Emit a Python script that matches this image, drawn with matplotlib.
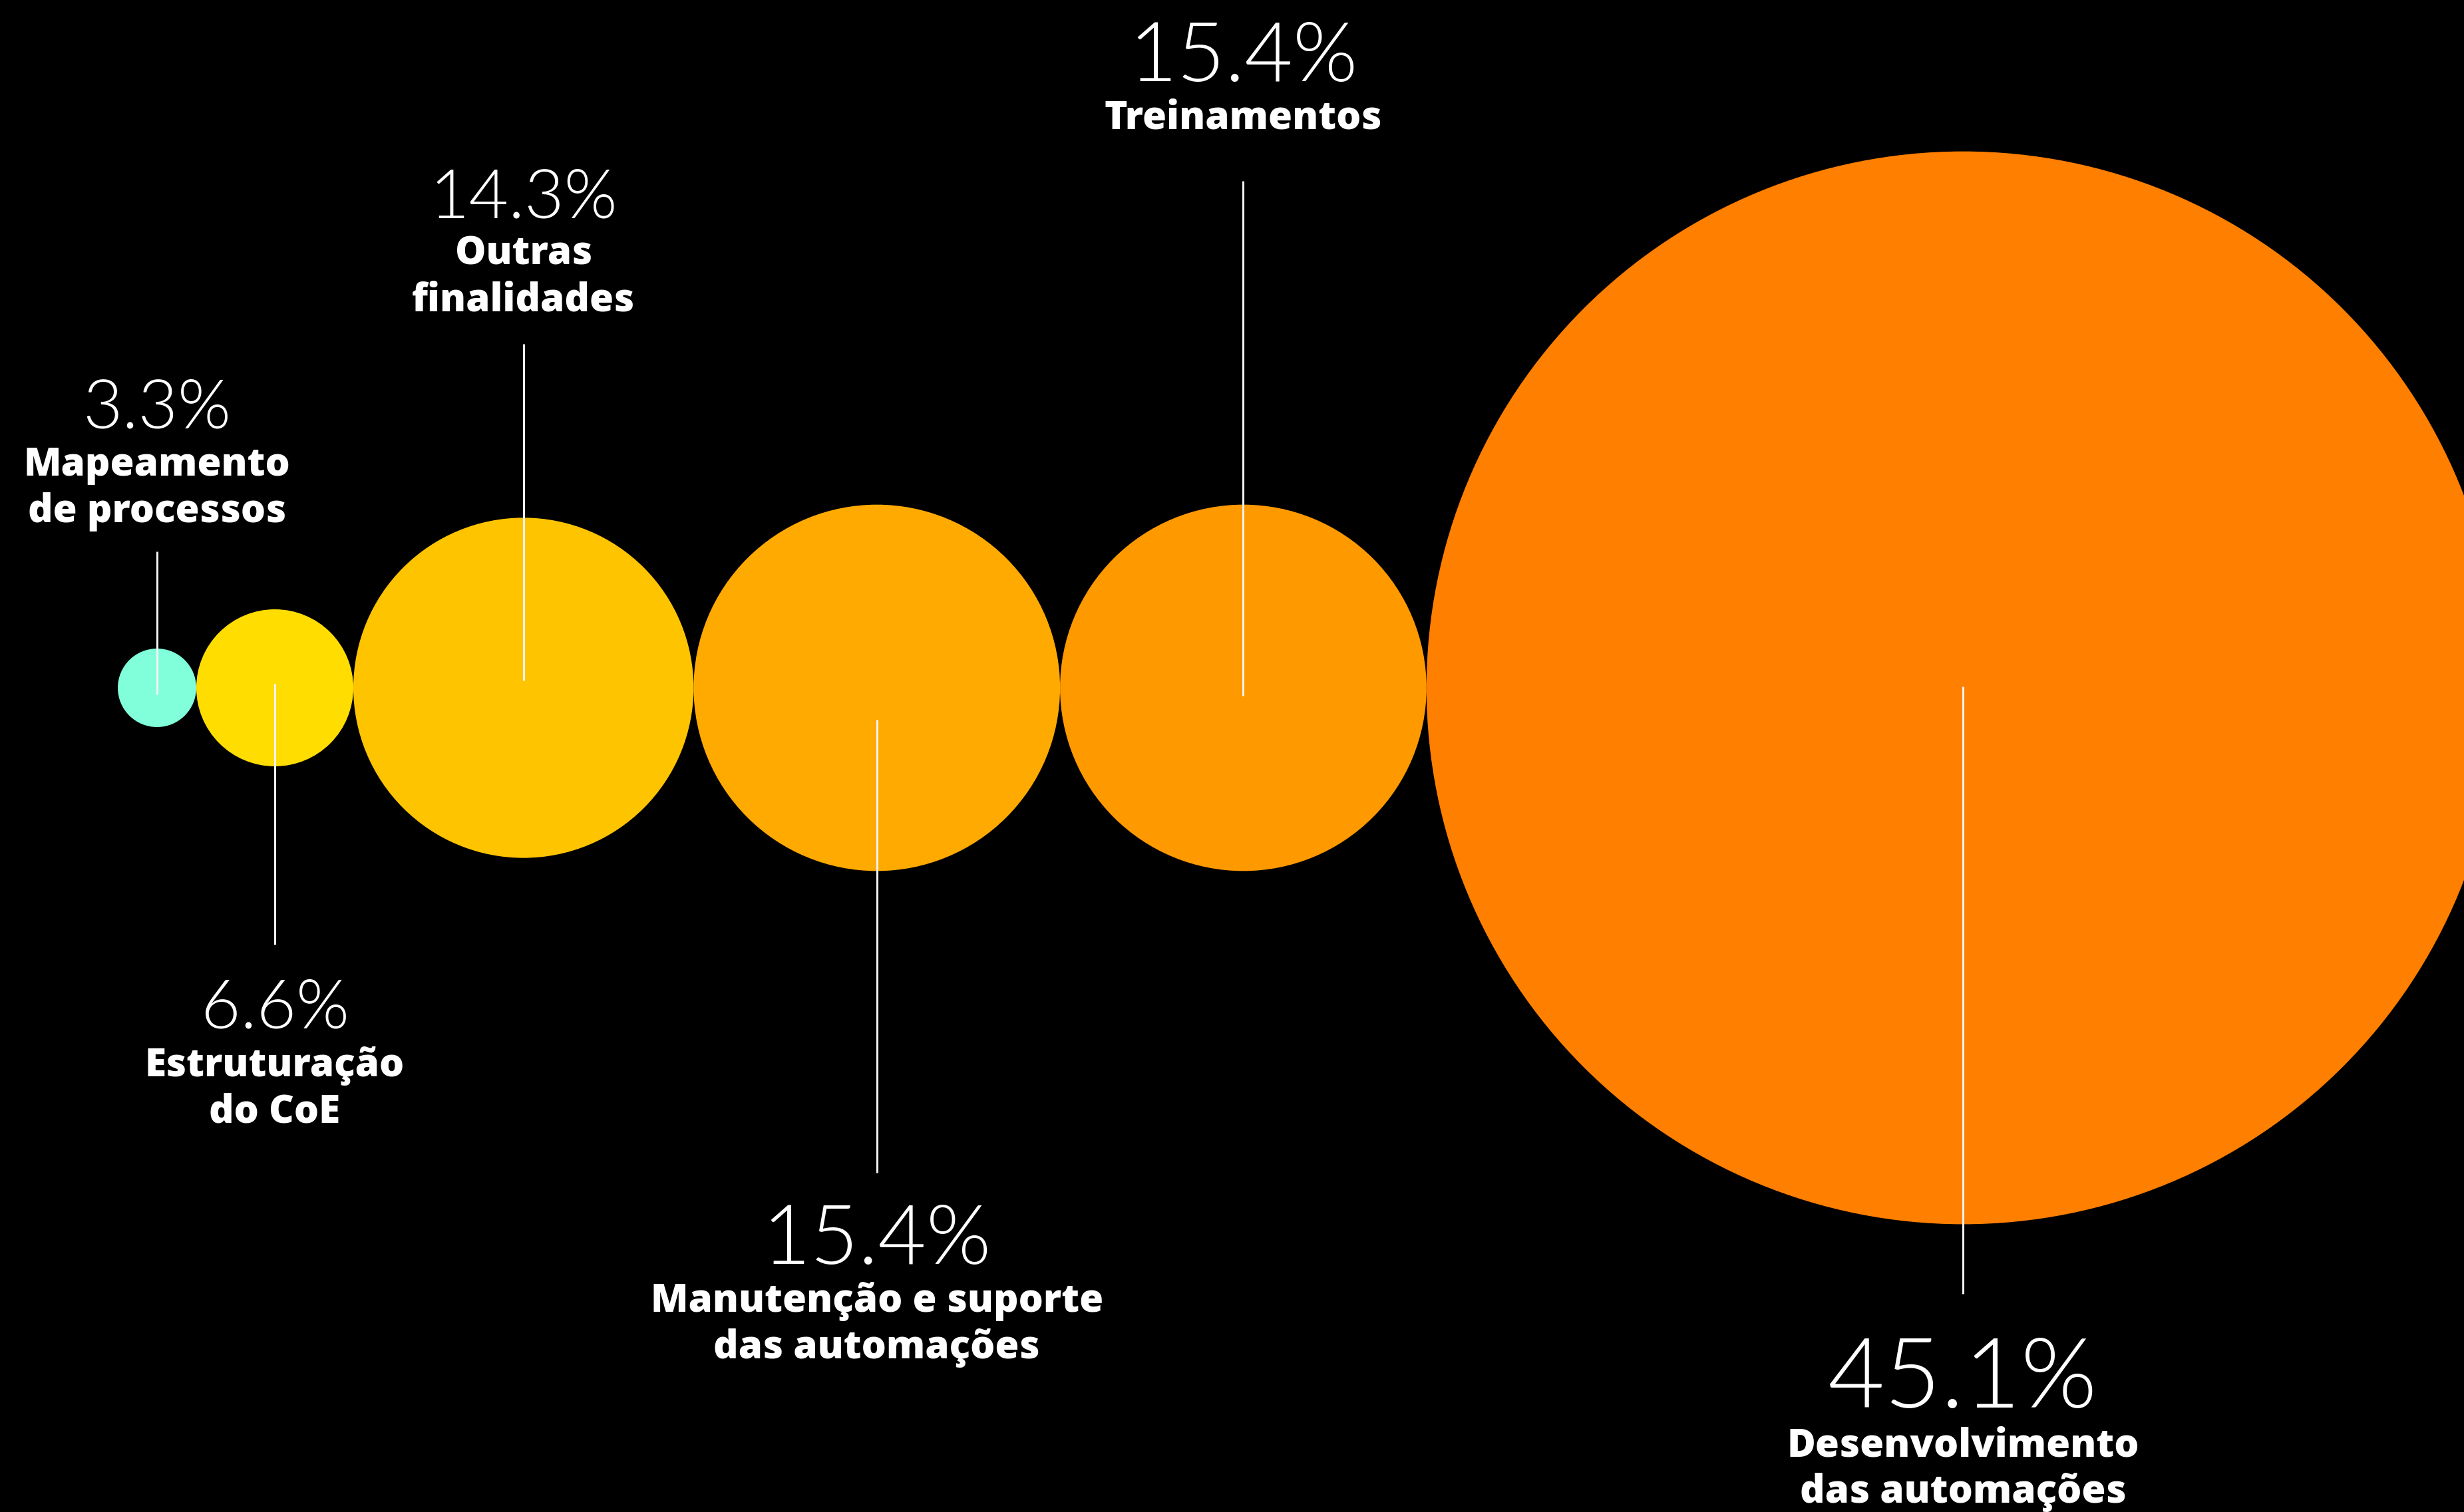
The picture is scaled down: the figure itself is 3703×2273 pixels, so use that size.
import matplotlib
matplotlib.use("Agg")
import matplotlib.pyplot as plt
from matplotlib.patches import Circle
from matplotlib import font_manager as fm

# ---------------- data ----------------
categories = [
    "Mapeamento\nde processos",
    "Estruturação\ndo CoE",
    "Outras\nfinalidades",
    "Manutenção e suporte\ndas automações",
    "Treinamentos",
    "Desenvolvimento\ndas automações",
]
values = [3.3, 6.6, 14.3, 15.4, 15.4, 45.1]
value_labels = ["3.3%", "6.6%", "14.3%", "15.4%", "15.4%", "45.1%"]

# ---------------- style / layout ----------------
colors = ["#80FFDA", "#FFDD00", "#FFC400", "#FFAA00", "#FF9900", "#FF7F00"]
W, H = 3703, 2273
K = 17.88            # pixels of radius per percentage point
LEFT = 177           # left edge of first bubble
CY = 1034            # vertical centre of the bubble row
line_top = [829, 1028, 517, 1082, 272, 1032]
line_bot = [1044, 1420, 1023, 1763, 1046, 1945]
pct_base = [644, 1545, 328, 1900, 122, 2116]
lab_base = [715, 1618, 397, 1972, 193, 2189]
pct_size = [74, 74, 74, 90, 90, 106]
LINE_GAP = 70
LAB_SIZE = 42


def pick(prefs):
    for name, weights in prefs:
        for w in weights:
            for f in fm.fontManager.ttflist:
                fw = f.weight
                if isinstance(fw, str):
                    fw = fm.weight_dict.get(fw, 400)
                if f.name == name and fw == w and f.style == "normal":
                    return f.fname
    return None


light_file = pick([("Lato", [300, 200]), ("Roboto", [300]), ("Open Sans", [300]),
                   ("Inter", [300]), ("Lato", [400])])
bold_file = pick([("Open Sans", [800, 700]), ("Lato", [700]), ("Roboto", [700]),
                  ("Inter", [700])])


def fprops(fname, size, fallback_weight):
    if fname:
        fp = fm.FontProperties(fname=fname)
    else:
        fp = fm.FontProperties(family="DejaVu Sans", weight=fallback_weight)
    fp.set_size(size)
    return fp


fig = plt.figure(figsize=(W / 100, H / 100), dpi=100, facecolor="black")
ax = fig.add_axes([0, 0, 1, 1])
ax.set_facecolor("black")
ax.set_xlim(0, W)
ax.set_ylim(H, 0)
ax.axis("off")

x = LEFT
centers = []
for v, c in zip(values, colors):
    r = K * v
    cx = x + r
    centers.append(cx)
    ax.add_patch(Circle((cx, CY), r, facecolor=c, edgecolor="none", zorder=1))
    x = cx + r

for i, (cx, cat, lab) in enumerate(zip(centers, categories, value_labels)):
    ax.plot([cx, cx], [line_top[i], line_bot[i]], color="#F2F2F2", lw=2.2,
            solid_capstyle="butt", zorder=3)
    ax.text(cx, pct_base[i], lab, color="white", ha="center", va="baseline",
            fontproperties=fprops(light_file, pct_size[i], "light"), zorder=4)
    for j, line in enumerate(cat.split("\n")):
        ax.text(cx, lab_base[i] + j * LINE_GAP, line, color="white",
                ha="center", va="baseline",
                fontproperties=fprops(bold_file, LAB_SIZE, "bold"), zorder=4)

fig.savefig("out.png", dpi=100, facecolor="black")
